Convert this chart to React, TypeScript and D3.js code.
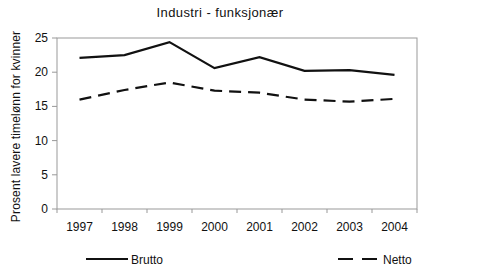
import React from "react";
import * as d3 from "d3";

const years = ["1997", "1998", "1999", "2000", "2001", "2002", "2003", "2004"];
const brutto = [22.1, 22.5, 24.4, 20.6, 22.2, 20.2, 20.3, 19.6];
const netto = [16.0, 17.4, 18.5, 17.3, 17.0, 16.0, 15.7, 16.1];
const yTicks = [0, 5, 10, 15, 20, 25];

export default function App() {
  const W = 500, H = 273;
  const left = 57, right = 417, top = 38, bottom = 209;
  const x = d3.scaleBand().domain(years).range([left, right]);
  const y = d3.scaleLinear().domain([0, 25]).range([bottom, top]);
  const line = d3
    .line<number>()
    .x((_, i) => (x(years[i]) as number) + x.bandwidth() / 2)
    .y((d) => y(d));
  const font = "'Liberation Sans', Arial, sans-serif";
  const axisColor = "#999";
  return (
    <svg
      width={W}
      height={H}
      style={{ position: "absolute", left: 0, top: 0, background: "#fff" }}
      fontFamily={font}
    >
      <rect x={0} y={0} width={W} height={H} fill="#fff" />
      <text x={220} y={17} textAnchor="middle" fontSize={13} letterSpacing={0.4} fill="#111">
        Industri - funksjonær
      </text>
      <rect x={left} y={top} width={right - left} height={bottom - top} fill="none" stroke={axisColor} strokeWidth={1} />
      {yTicks.map((t) => (
        <g key={t}>
          <line x1={left - 5} x2={left} y1={y(t)} y2={y(t)} stroke={axisColor} />
          <text x={left - 9} y={y(t) + 4} textAnchor="end" fontSize={12} fill="#111">
            {t}
          </text>
        </g>
      ))}
      {years.map((yr, i) => (
        <g key={yr}>
          <line
            x1={(x(yr) as number)}
            x2={(x(yr) as number)}
            y1={bottom}
            y2={bottom + 4}
            stroke={axisColor}
          />
          <text
            x={(x(yr) as number) + x.bandwidth() / 2}
            y={bottom + 22}
            textAnchor="middle"
            fontSize={12}
            fill="#111"
          >
            {yr}
          </text>
        </g>
      ))}
      <line x1={right} x2={right} y1={bottom} y2={bottom + 4} stroke={axisColor} />
      <text
        transform={`translate(20,${(top + bottom) / 2 + 3}) rotate(-90)`}
        textAnchor="middle"
        fontSize={12}
        letterSpacing={0.15}
        fill="#111"
      >
        Prosent lavere timelønn for kvinner
      </text>
      <path d={line(brutto) || ""} fill="none" stroke="#111" strokeWidth={2.2} />
      <path d={line(netto) || ""} fill="none" stroke="#111" strokeWidth={2.2} strokeDasharray="12,7" />
      <line x1={86} x2={128} y1={259} y2={259} stroke="#111" strokeWidth={2.2} />
      <text x={131} y={264} fontSize={12} fill="#111">Brutto</text>
      <line x1={338} x2={378} y1={259} y2={259} stroke="#111" strokeWidth={2.2} strokeDasharray="15,9" />
      <text x={383} y={264} fontSize={12} fill="#111">Netto</text>
    </svg>
  );
}
